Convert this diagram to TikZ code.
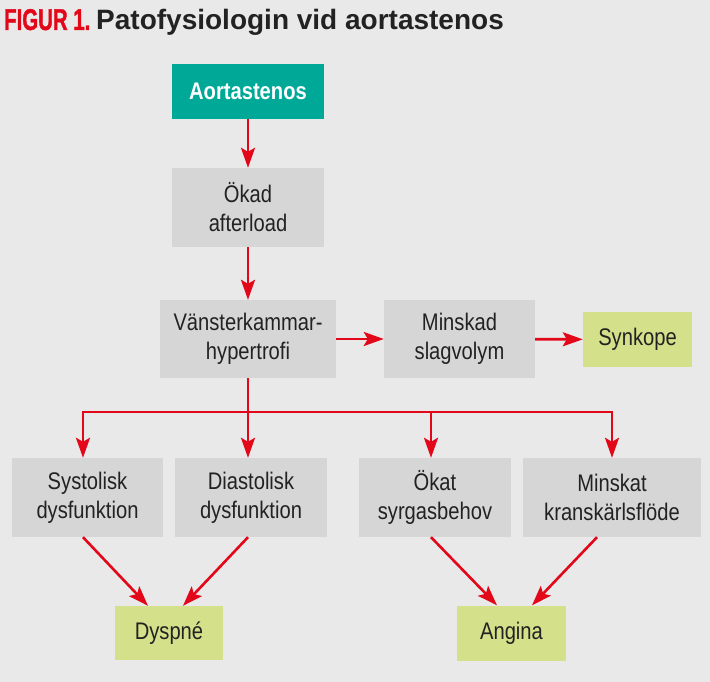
\documentclass[tikz,border=0pt]{standalone}
\usepackage{fontspec}
\setmainfont{Liberation Sans}
\newfontfamily\boxfont[FakeStretch=0.84]{Liberation Sans}
\newfontfamily\condfont[FakeStretch=0.68,FakeBold=1.2]{Liberation Sans}
\usepackage{tikz}
\usetikzlibrary{arrows.meta,positioning,calc}
\definecolor{pfbg}{RGB}{233,233,233}
\definecolor{pfgris}{RGB}{214,214,214}
\definecolor{pfgron}{RGB}{213,224,138}
\definecolor{pfturkos}{RGB}{0,168,152}
\definecolor{pfrod}{RGB}{226,8,26}
\definecolor{pftext}{RGB}{34,34,34}
\tikzset{
  pfbox/.style={
    rectangle, draw=none, fill=pfgris, inner sep=0pt,
    minimum width=152pt, minimum height=79pt, align=center,
    text=pftext, font=\boxfont\fontsize{24}{29}\selectfont
  },
  pfstart/.style={
    pfbox, fill=pfturkos, text=white, minimum height=55pt,
    font=\boxfont\bfseries\fontsize{24}{29}\selectfont
  },
  pfutfall/.style={
    pfbox, fill=pfgron, minimum width=109pt, minimum height=55pt
  },
  pfflow/.style={-{Stealth[length=20pt,width=14pt,inset=4pt]},
    line width=2.6pt, pfrod},
  pfbus/.style={line width=2.6pt, pfrod, line cap=rect}
}

\begin{document}
\begin{tikzpicture}[x=1pt, y=-1pt]
  \fill[pfbg] (0,0) rectangle (710,682);

  % Title
  \node[anchor=base west, inner sep=0pt, text=pfrod,
        font=\condfont\bfseries\fontsize{30}{30}\selectfont] (figlabel) at (4,30) {FIGUR 1.};
  \node[anchor=base west, inner sep=0pt, text=pftext,
        font=\bfseries\fontsize{28}{30}\selectfont] (figtitle) at (96,30) {Patofysiologin vid aortastenos};

  % Chain
  \node[pfstart] (aorta) at (248,91.5) {Aortastenos};
  \node[pfbox] (afterload) at (248,207.5) {Ökad\\afterload};
  \node[pfbox, minimum width=176pt, minimum height=78pt] (hypertrofi) at (248,339) {Vänsterkammar-\\hypertrofi};
  \node[pfbox, minimum width=151pt, minimum height=78pt] (slagvolym) at (459.5,339) {Minskad\\slagvolym};
  \node[pfutfall] (synkope) at (637.5,339.5) {Synkope};

  % Causes
  \node[pfbox, minimum width=151pt] (systolisk)  at (87.5,497.5) {Systolisk\\dysfunktion};
  \node[pfbox] (diastolisk) at (251,497.5) {Diastolisk\\dysfunktion};
  \node[pfbox] (syrgas)     at (435,497.5) {Ökat\\syrgasbehov};
  \node[pfbox, minimum width=178pt] (krans) at (612,497.5) {Minskat\\kranskärlsflöde};

  % Symptoms
  \node[pfutfall, minimum width=108pt, minimum height=54pt] (dyspne) at (169,633) {Dyspné};
  \node[pfutfall] (angina) at (511.5,633) {Angina};

  % Arrows, top
  \draw[pfflow] (aorta) -- (afterload);
  \draw[pfflow] (afterload) -- (hypertrofi);
  \draw[pfflow] (hypertrofi) -- (slagvolym);
  \draw[pfflow] (slagvolym) -- (synkope);

  % Bus
  \coordinate (busW) at (83,412);
  \coordinate (busM) at (431,412);
  \coordinate (busE) at (612,412);
  \draw[pfbus] (busW) -- (busE);
  \draw[pfflow] (hypertrofi.south) -- (hypertrofi.south |- diastolisk.north);
  \draw[pfflow] (busW) -- (busW |- systolisk.north);
  \draw[pfflow] (busM) -- (busM |- syrgas.north);
  \draw[pfflow] (busE) -- (busE |- krans.north);

  % Arrows, bottom
  \draw[pfflow] (busW |- systolisk.south) -- ([xshift=-21pt]dyspne.north);
  \draw[pfflow] (hypertrofi.south |- diastolisk.south) -- ([xshift=14pt]dyspne.north);
  \draw[pfflow] (busM |- syrgas.south) -- ([xshift=-14.5pt]angina.north);
  \draw[pfflow] ([xshift=-15pt]krans.south) -- ([xshift=20.5pt]angina.north);
\end{tikzpicture}
\end{document}
